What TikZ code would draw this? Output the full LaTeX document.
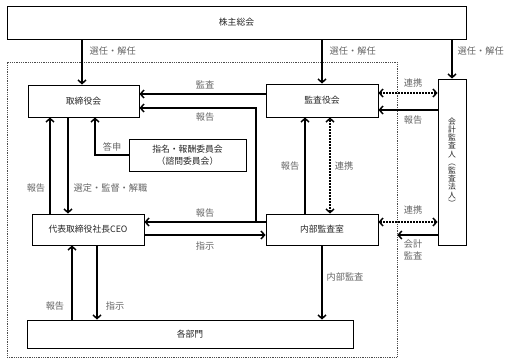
\documentclass[tikz,border=0pt]{standalone}
\usepackage{fontspec}
\setmainfont{Noto Sans CJK JP}
\usetikzlibrary{arrows.meta}
\begin{document}
\begin{tikzpicture}[x=1pt,y=-1pt,
  box/.style={draw, line width=1pt, inner sep=0pt, text=black!85, font=\fontsize{8.8}{11.5}\selectfont},
  lab/.style={text=black!60, font=\fontsize{9.2}{10}\selectfont, inner sep=0.5pt},
  frame/.style={draw=black!70, line width=0.6pt, dash pattern=on 0.9pt off 0.9pt, inner sep=0pt},
  arr/.style={line width=1.5pt, -{Straight Barb[length=3.5pt,width=8pt]}},
  darr/.style={line width=1.5pt, dash pattern=on 1.5pt off 1.5pt,
    {Straight Barb[length=3.5pt,width=8pt]}-{Straight Barb[length=3.5pt,width=8pt]}}]
\useasboundingbox (0,0) rectangle (509,364);
\fill[white] (0,0) rectangle (509,364);
% helper coordinates
\coordinate (X50) at (50,0);
\coordinate (X68) at (68,0);
\coordinate (X72) at (72,0);
\coordinate (X82) at (82,0);
\coordinate (X95) at (95,0);
\coordinate (X97) at (97,0);
\coordinate (X256) at (256,0);
\coordinate (X305) at (305,0);
\coordinate (X330) at (330,0);
\coordinate (Y93) at (0,93);
\coordinate (Y94) at (0,94);
\coordinate (Y108) at (0,108);
\coordinate (Y110) at (0,110);
\coordinate (Y222) at (0,222);
\coordinate (Y235) at (0,235);
% frame
\node[frame, minimum width=390pt, minimum height=295pt] (fr) at (202,209.5) {};
% boxes
\node[box, minimum width=459pt, minimum height=33pt] (sh) at (236.5,22.5) {株主総会};
\node[box, minimum width=111pt, minimum height=32pt] (tb) at (83.5,101) {取締役会};
\node[box, minimum width=112pt, minimum height=33pt] (ka) at (322,100.5) {監査役会};
\node[box, minimum width=112pt, minimum height=31pt] (ceo) at (88,229.5) {代表取締役社長CEO};
\node[box, minimum width=112pt, minimum height=31pt] (na) at (322,229.5) {内部監査室};
\node[box, minimum width=326pt, minimum height=28pt] (bu) at (190,334) {各部門};
\node[box, minimum width=117pt, minimum height=32pt, align=center] (im) at (187.5,155) {指名・報酬委員会\\（諮問委員会）};
\node[box, minimum width=28pt, minimum height=166pt, align=center, font=\fontsize{7.8}{8.2}\selectfont] (ac) at (452,162) {会\\計\\監\\査\\人\\︵\\監\\査\\法\\人\\︶};
% from shareholders
\draw[arr] (sh.south -| X82) -- (tb.north -| X82);
\draw[arr] (sh.south -| ka.north) -- (ka.north);
\draw[arr] (sh.south -| ac.north) -- (ac.north);
\node[lab, anchor=west] (l1) at (89,51) {選任・解任};
\node[lab, anchor=west] (l2) at (329,51) {選任・解任};
\node[lab, anchor=west] (l3) at (457,51) {選任・解任};
% audit board -> board
\draw[arr] (ka.west |- Y94) -- (tb.east |- Y94);
\node[lab] (l4) at (205,85) {監査};
% internal audit reports
\draw[arr] (na.west |- Y222) -- (ceo.east |- Y222);
\draw[arr] (X256 |- Y222) -- (X256 |- Y108) -- (tb.east |- Y108);
\node[lab] (l5) at (205,117) {報告};
\node[lab] (l6) at (205,213) {報告};
% CEO -> internal audit
\draw[arr] (ceo.east |- Y235) -- (na.west |- Y235);
\node[lab] (l7) at (205,246) {指示};
% board <-> CEO
\draw[arr] (tb.south -| X68) -- (ceo.north -| X68);
\draw[arr] (ceo.north -| X50) -- (tb.south -| X50);
\node[lab] (l8) at (36,188) {報告};
\node[lab, anchor=west] (l9) at (73,188) {選定・監督・解職};
% committee -> board
\draw[arr] (im.west) -- (X95 |- im.west) -- (tb.south -| X95);
\node[lab] (l10) at (112,147) {答申};
% CEO <-> departments
\draw[arr] (bu.north -| X72) -- (ceo.south -| X72);
\draw[arr] (ceo.south -| X97) -- (bu.north -| X97);
\node[lab] (l11) at (55,306) {報告};
\node[lab] (l12) at (115,306) {指示};
% internal audit -> departments
\draw[arr] (na.south) -- (bu.north -| na.south);
\node[lab] (l13) at (345,277) {内部監査};
% internal audit <-> audit board
\draw[arr] (na.north -| X305) -- (ka.south -| X305);
\draw[darr] (na.north -| X330) -- (ka.south -| X330);
\node[lab] (l14) at (290,166) {報告};
\node[lab] (l15) at (344,166) {連携};
% accounting auditor links
\draw[darr] (ka.east |- Y93) -- (ac.west |- Y93);
\node[lab] (l16) at (413,83) {連携};
\draw[arr] (ac.west |- Y110) -- (ka.east |- Y110);
\node[lab] (l17) at (413,120) {報告};
\draw[darr] (na.east |- Y222) -- (ac.west |- Y222);
\node[lab] (l18) at (413,210) {連携};
\draw[arr] (ac.west |- Y235) -- (fr.east |- Y235);
\node[lab, align=center, font=\fontsize{9.2}{12}\selectfont] (l19) at (413,250) {会計\\監査};
\end{tikzpicture}
\end{document}
